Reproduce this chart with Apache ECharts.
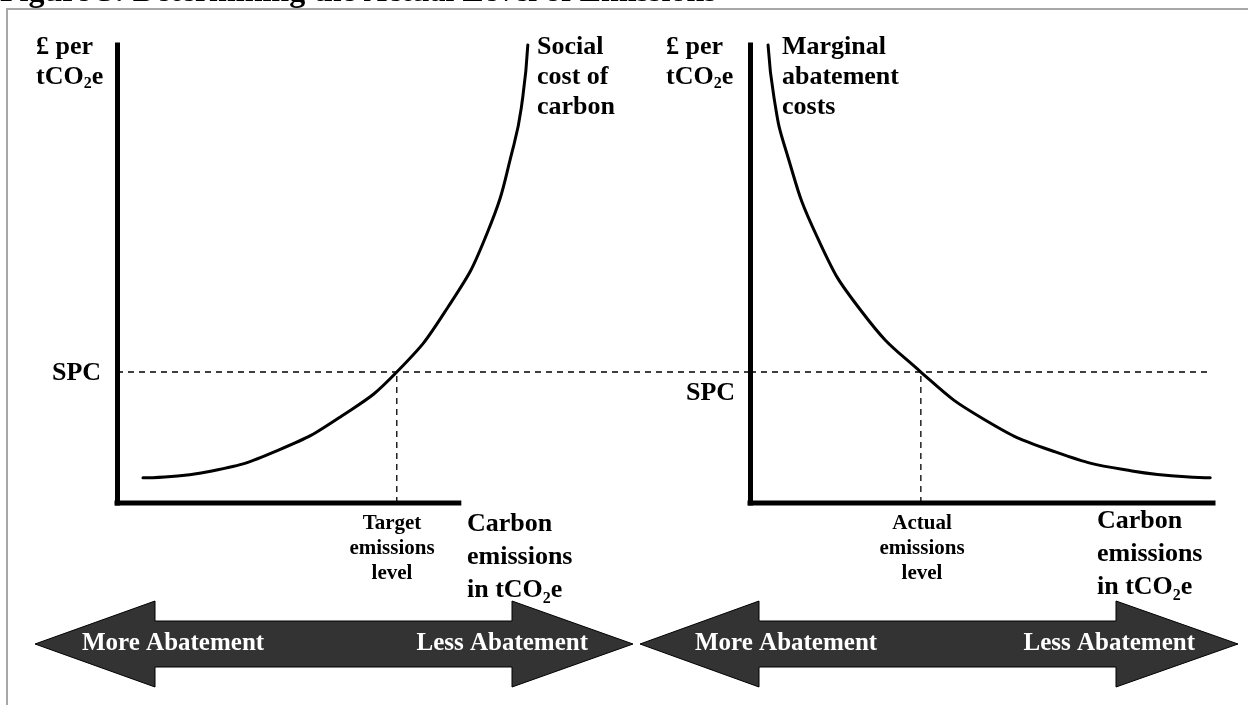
<!DOCTYPE html>
<html>
<head>
<meta charset="utf-8">
<style>
  html, body { margin: 0; padding: 0; background: #fff; }
  #main { width: 1248px; height: 705px; }
</style>
<script src="https://cdn.jsdelivr.net/npm/echarts@6.0.0/dist/echarts.min.js"></script>
</head>
<body>
<div id="main"></div>
<script>
// both panels use a 0..100 scale on each axis (no real units on the figure)
var spcLevel = 28.6
var targetLevel = 44.2
var actualLevel = 36.9

// social cost of carbon, left panel
var socialCost = [
    [4.1, 5.5], [15.0, 7.0], [25.6, 11.6], [35.5, 19.0], [44.2, 28.6],
    [52.3, 42.8], [58.5, 59.0], [62.7, 78.2], [64.1, 88.6], [64.9, 100]
]
// marginal abatement costs, right panel
var abatementCost = [
    [3.9, 100], [5.2, 88.4], [7.6, 77.5], [14.5, 58.1], [24.2, 41.7],
    [36.9, 28.6], [50.5, 18.3], [66.1, 11.1], [82.5, 7.0], [99.4, 5.5]
]
var leftAxisEnd = 54
var rightAxisEnd = 100
var rightSpcEnd = 99.6

var serif = '"Liberation Serif", "Times New Roman", serif'
var ink = '#000'

var chart = echarts.init(document.getElementById('main'))

function lineSeries(name, grid, data, width, dashed) {
    return {
        name: name,
        type: 'line',
        xAxisIndex: grid,
        yAxisIndex: grid,
        data: data,
        symbol: 'none',
        clip: false,
        silent: true,
        lineStyle: {
            color: ink,
            width: width,
            type: dashed ? [6, 5] : 'solid',
            cap: dashed ? 'butt' : 'square'
        }
    }
}

function curveSeries(name, grid, data) {
    var s = lineSeries(name, grid, data, 3, false)
    s.smooth = 0.5
    s.lineStyle.cap = 'round'
    return s
}

function label(x, y, text, size, opts) {
    opts = opts || {}
    return {
        type: 'text',
        x: x,
        y: y,
        silent: true,
        z: 100,
        style: {
            text: text,
            fill: opts.fill || ink,
            font: 'bold ' + size + 'px ' + serif,
            textAlign: opts.align || 'left',
            textVerticalAlign: opts.valign || 'top',
            lineHeight: opts.lineHeight || size,
            rich: opts.rich
        }
    }
}

// rich styles for the subscript in tCO2e
function unitRich(size, lh) {
    return {
        a: { fontSize: size, fontWeight: 'bold', fontFamily: serif, lineHeight: lh, color: ink },
        s: { fontSize: Math.round(size * 0.62), fontWeight: 'bold', fontFamily: serif, lineHeight: Math.round(size * 0.62), verticalAlign: 'bottom', color: ink }
    }
}

function arrow(x0, x1, hx0, hx1) {
    var cy = 644, head = 43, body = 23
    return {
        type: 'polygon',
        silent: true,
        shape: {
            points: [
                [x0, cy], [hx0, cy - head], [hx0, cy - body], [hx1, cy - body], [hx1, cy - head],
                [x1, cy], [hx1, cy + head], [hx1, cy + body], [hx0, cy + body], [hx0, cy + head]
            ]
        },
        style: { fill: '#333', stroke: '#000', lineWidth: 1 }
    }
}

var axisY = {
    type: 'value', min: 0, max: 100,
    axisLine: { show: true, lineStyle: { color: ink, width: 5, cap: 'square' } },
    axisTick: { show: false }, axisLabel: { show: false }, splitLine: { show: false }
}
var axisX = {
    type: 'value', min: 0, max: 100, show: false, splitLine: { show: false }
}

var option = {
    backgroundColor: '#fff',
    animation: false,
    grid: [
        { left: 117, top: 45, width: 633, height: 458 },
        { left: 750, top: 45, width: 463, height: 458 }
    ],
    xAxis: [
        Object.assign({ gridIndex: 0 }, axisX),
        Object.assign({ gridIndex: 1 }, axisX)
    ],
    yAxis: [
        Object.assign({ gridIndex: 0 }, axisY),
        Object.assign({ gridIndex: 1 }, axisY)
    ],
    series: [
        lineSeries('left baseline', 0, [[0, 0], [leftAxisEnd, 0]], 5, false),
        lineSeries('left SPC', 0, [[0, spcLevel], [100, spcLevel]], 1.3, true),
        lineSeries('target', 0, [[targetLevel, 0], [targetLevel, spcLevel]], 1.3, true),
        curveSeries('Social cost of carbon', 0, socialCost),
        lineSeries('right baseline', 1, [[0, 0], [rightAxisEnd, 0]], 5, false),
        lineSeries('right SPC', 1, [[0, spcLevel], [rightSpcEnd, spcLevel]], 1.3, true),
        lineSeries('actual', 1, [[actualLevel, 0], [actualLevel, spcLevel]], 1.3, true),
        curveSeries('Marginal abatement costs', 1, abatementCost)
    ],
    graphic: [
        // frame and the cut off title
        {
            type: 'polyline', silent: true,
            shape: { points: [[7, 705], [7, 9], [1248, 9]] },
            style: { stroke: '#a8a8a8', lineWidth: 2, fill: null }
        },
        label(0, -7, 'Figure 3: Determining the Actual Level of Emissions', 32, { valign: 'middle' }),

        // left panel
        label(36, 32, '{a|£ per}\n{a|tCO}{s|2}{a|e}', 26, { rich: unitRich(26, 30), lineHeight: 30 }),
        label(537, 32, 'Social\ncost of\ncarbon', 26, { lineHeight: 30 }),
        label(52, 373, 'SPC', 26, { valign: 'middle' }),
        label(392, 511, 'Target\nemissions\nlevel', 21, { align: 'center', lineHeight: 25 }),
        label(467, 508, '{a|Carbon}\n{a|emissions}\n{a|in tCO}{s|2}{a|e}', 26, { rich: unitRich(26, 33), lineHeight: 33 }),

        // right panel
        label(666, 32, '{a|£ per}\n{a|tCO}{s|2}{a|e}', 26, { rich: unitRich(26, 30), lineHeight: 30 }),
        label(782, 32, 'Marginal\nabatement\ncosts', 26, { lineHeight: 30 }),
        label(686, 393, 'SPC', 26, { valign: 'middle' }),
        label(922, 511, 'Actual\nemissions\nlevel', 21, { align: 'center', lineHeight: 25 }),
        label(1097, 505, '{a|Carbon}\n{a|emissions}\n{a|in tCO}{s|2}{a|e}', 26, { rich: unitRich(26, 33), lineHeight: 33 }),

        // abatement arrows
        arrow(35, 633, 155, 512),
        arrow(640, 1238, 759, 1116),
        label(82, 644, 'More Abatement', 25, { fill: '#fff', valign: 'middle' }),
        label(588, 644, 'Less Abatement', 25, { fill: '#fff', valign: 'middle', align: 'right' }),
        label(695, 644, 'More Abatement', 25, { fill: '#fff', valign: 'middle' }),
        label(1195, 644, 'Less Abatement', 25, { fill: '#fff', valign: 'middle', align: 'right' })
    ]
}

chart.setOption(option)
</script>
</body>
</html>
